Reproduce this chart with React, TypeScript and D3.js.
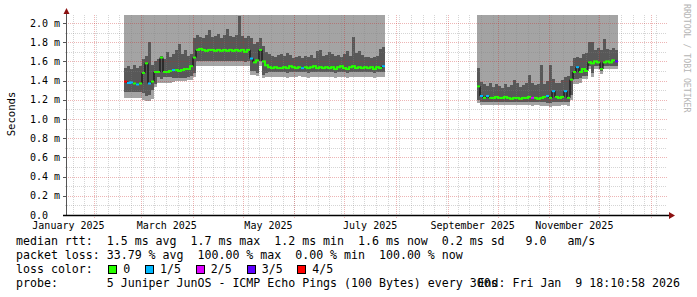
import React from "react";
import * as d3 from "d3";

// ---------- data ----------
const DAY = 86400000;
const START = Date.UTC(2025, 0, 15, 15, 0, 0);
const END = START + 360 * DAY;
const COL_DAYS = 1.8;

const yTickValues = [0, 0.2, 0.4, 0.6, 0.8, 1.0, 1.2, 1.4, 1.6, 1.8, 2.0];
const yTickLabels = ["0.0", "0.2 m", "0.4 m", "0.6 m", "0.8 m", "1.0 m", "1.2 m", "1.4 m", "1.6 m", "1.8 m", "2.0 m"];
const monthLabels = ["January 2025", "March 2025", "May 2025", "July 2025", "September 2025", "November 2025"];
const monthLabelMonths = [0, 2, 4, 6, 8, 10];

const lossLabels = ["0", "1/5", "2/5", "3/5", "4/5"];
const lossColors = ["#26ff00", "#00b8ff", "#dd00ff", "#5e00ff", "#ff0000"];

const seg1Start = "2025-02-18T19:48:00Z";
const seg1Median = [1.39, 1.375, 1.38, 1.37, 1.36, 1.37, 1.48, 1.58, 1.37, 1.39, 1.49, 1.49, 1.64, 1.49, 1.49, 1.50, 1.51, 1.51, 1.50, 1.51, 1.52, 1.52, 1.55, 1.64, 1.72, 1.73, 1.72, 1.71, 1.72, 1.72, 1.71, 1.72, 1.71, 1.72, 1.71, 1.72, 1.71, 1.72, 1.71, 1.72, 1.70, 1.72, 1.63, 1.59, 1.61, 1.72, 1.60, 1.56,
  1.54, 1.53, 1.54, 1.53, 1.53, 1.54, 1.53, 1.55, 1.54, 1.53, 1.54, 1.53, 1.54, 1.53, 1.54, 1.55, 1.53, 1.54, 1.53, 1.54, 1.53, 1.54, 1.52, 1.54, 1.55, 1.53, 1.52, 1.54, 1.55, 1.53, 1.54, 1.53, 1.54, 1.53, 1.54, 1.52, 1.54, 1.53, 1.55];
const seg1DarkTop = [1.53, 1.55, 1.52, 1.56, 1.53, 1.55, 1.62, 1.66, 1.80, 1.56, 1.60, 1.62, 1.66, 1.63, 1.70, 1.65, 1.68, 1.72, 1.78, 1.68, 1.72, 1.66, 1.68, 1.84, 1.87, 1.85, 1.84, 1.88, 1.93, 1.85, 1.86, 1.89, 1.84, 1.87, 1.94, 1.86, 1.85, 1.88, 2.07, 1.86, 1.84, 1.86, 1.84, 1.78, 1.80, 1.84, 1.76, 1.70,
  1.68, 1.66, 1.65, 1.67, 1.68, 1.66, 1.69, 1.67, 1.64, 1.65, 1.66, 1.64, 1.66, 1.65, 1.67, 1.64, 1.71, 1.72, 1.66, 1.67, 1.70, 1.68, 1.66, 1.67, 1.65, 1.68, 1.71, 1.66, 1.85, 1.69, 1.71, 1.67, 1.65, 1.65, 1.64, 1.65, 1.66, 1.73, 1.75];
const seg1DarkBot = [1.285, 1.285, 1.285, 1.285, 1.285, 1.285, 1.27, 1.24, 1.25, 1.30, 1.36, 1.44, 1.42, 1.44, 1.44, 1.44, 1.43, 1.43, 1.43, 1.43, 1.43, 1.44, 1.45, 1.48, 1.60, 1.60, 1.60, 1.60, 1.60, 1.60, 1.60, 1.60, 1.60, 1.60, 1.60, 1.60, 1.60, 1.60, 1.60, 1.60, 1.59, 1.60, 1.50, 1.50, 1.48, 1.60, 1.46, 1.48,
  1.49, 1.49, 1.49, 1.49, 1.49, 1.49, 1.48, 1.49, 1.49, 1.49, 1.49, 1.49, 1.49, 1.48, 1.49, 1.49, 1.49, 1.49, 1.49, 1.49, 1.49, 1.49, 1.48, 1.49, 1.49, 1.49, 1.48, 1.49, 1.49, 1.49, 1.49, 1.49, 1.49, 1.49, 1.49, 1.48, 1.49, 1.49, 1.49];
const seg1LightBot = [1.22, 1.22, 1.22, 1.22, 1.22, 1.22, 1.20, 1.19, 1.19, 1.21, 1.33, 1.37, 1.37, 1.37, 1.37, 1.38, 1.39, 1.40, 1.40, 1.40, 1.40, 1.41, 1.41, 1.44, 1.555, 1.555, 1.555, 1.555, 1.555, 1.555, 1.55, 1.55, 1.55, 1.55, 1.55, 1.55, 1.55, 1.55, 1.55, 1.55, 1.55, 1.55, 1.46, 1.46, 1.45, 1.55, 1.43, 1.44,
  1.44, 1.44, 1.44, 1.44, 1.44, 1.44, 1.43, 1.44, 1.44, 1.44, 1.45, 1.44, 1.44, 1.43, 1.44, 1.44, 1.44, 1.44, 1.44, 1.44, 1.44, 1.44, 1.43, 1.44, 1.44, 1.44, 1.43, 1.44, 1.44, 1.44, 1.44, 1.44, 1.44, 1.44, 1.44, 1.43, 1.44, 1.44, 1.44];
const seg1Loss = [4, 1, 1, 0, 1, 0, 0, 0, 1, 0, 0, 0, 0, 0, 0, 0, 1, 0, 0, 0, 0, 0, 0, 0, 0, 0, 0, 0, 0, 0, 0, 0, 0, 0, 0, 0, 0, 0, 0, 0, 0, 0, 1, 0, 0, 0, 0, 0,
  0, 0, 0, 0, 0, 0, 0, 0, 0, 0, 0, 1, 0, 0, 0, 0, 0, 0, 0, 0, 0, 0, 0, 0, 0, 0, 0, 0, 0, 0, 0, 0, 0, 0, 0, 0, 0, 0, 1];

const seg2Start = "2025-09-18T15:00:00Z";
const seg2Median = [1.34, 1.24, 1.22, 1.24, 1.22, 1.22, 1.23, 1.22, 1.22, 1.23, 1.22, 1.21, 1.22, 1.22, 1.21, 1.22, 1.22, 1.23, 1.22, 1.22, 1.21, 1.22, 1.23, 1.24, 1.22, 1.29, 1.23, 1.22, 1.23, 1.29, 1.22, 1.41, 1.49, 1.54, 1.49, 1.52, 1.50, 1.59, 1.58, 1.60, 1.59, 1.52, 1.59, 1.60, 1.59, 1.61, 1.60];
const seg2DarkTop = [1.53, 1.39, 1.36, 1.34, 1.38, 1.33, 1.36, 1.34, 1.32, 1.36, 1.33, 1.35, 1.41, 1.38, 1.33, 1.35, 1.37, 1.46, 1.38, 1.35, 1.36, 1.56, 1.36, 1.40, 1.56, 1.42, 1.38, 1.37, 1.41, 1.44, 1.45, 1.55, 1.64, 1.65, 1.64, 1.68, 1.69, 1.80, 1.80, 1.72, 1.74, 1.72, 1.83, 1.73, 1.72, 1.74, 1.72];
const seg2DarkBot = [1.20, 1.18, 1.18, 1.18, 1.18, 1.18, 1.18, 1.18, 1.18, 1.18, 1.18, 1.18, 1.18, 1.18, 1.18, 1.18, 1.18, 1.18, 1.18, 1.18, 1.18, 1.18, 1.18, 1.17, 1.17, 1.18, 1.18, 1.18, 1.18, 1.18, 1.18, 1.25, 1.42, 1.42, 1.43, 1.45, 1.45, 1.55, 1.48, 1.55, 1.55, 1.50, 1.55, 1.55, 1.55, 1.55, 1.55];
const seg2LightBot = [1.17, 1.15, 1.15, 1.15, 1.15, 1.15, 1.15, 1.15, 1.15, 1.15, 1.15, 1.15, 1.15, 1.15, 1.15, 1.15, 1.15, 1.15, 1.14, 1.15, 1.15, 1.14, 1.14, 1.14, 1.13, 1.14, 1.14, 1.14, 1.15, 1.15, 1.14, 1.20, 1.36, 1.36, 1.38, 1.42, 1.42, 1.52, 1.44, 1.52, 1.52, 1.47, 1.52, 1.52, 1.52, 1.52, 1.52];
const seg2Loss = [0, 1, 0, 1, 0, 0, 0, 0, 0, 0, 0, 0, 0, 0, 0, 0, 0, 0, 2, 0, 0, 0, 0, 1, 0, 1, 0, 0, 0, 1, 0, 0, 0, 1, 0, 0, 0, 0, 0, 0, 0, 0, 0, 0, 0, 0, 3];

const legendRtt = "median rtt:  1.5 ms avg  1.7 ms max  1.2 ms min  1.6 ms now  0.2 ms sd   9.0   am/s";
const legendLoss = "packet loss: 33.79 % avg  100.00 % max  0.00 % min  100.00 % now";
const legendLossTitle = "loss color:";
const legendProbe = "probe:       5 Juniper JunOS - ICMP Echo Pings (100 Bytes) every 300s";
const legendEnd = "End: Fri Jan  9 18:10:58 2026";
const yTitle = "Seconds";
const watermark = "RRDTOOL / TOBI OETIKER";

// ---------- helpers ----------
type Col = { t0: Date; t1: Date; med: number; dT: number; dB: number; lB: number; loss: number };
function buildSeg(start: string, med: number[], dT: number[], dB: number[], lB: number[], loss: number[]): Col[] {
  const s = new Date(start).getTime();
  return med.map((m, i) => ({
    t0: new Date(s + i * COL_DAYS * DAY),
    t1: new Date(s + (i + 1) * COL_DAYS * DAY),
    med: m, dT: dT[i], dB: dB[i], lB: lB[i], loss: loss[i],
  }));
}

const MONO = "'DejaVu Sans Mono', monospace";
const PRE: React.CSSProperties = { whiteSpace: "pre" };

export default function App() {
  const X0 = 67, X1 = 667, YB = 215, YT = 15;
  const x = d3.scaleTime().domain([new Date(START), new Date(END)]).range([X0, X1]);
  const yMax = 200 / 96;
  const y = d3.scaleLinear().domain([0, yMax]).range([YB, YT]);

  const segs = [
    buildSeg(seg1Start, seg1Median, seg1DarkTop, seg1DarkBot, seg1LightBot, seg1Loss),
    buildSeg(seg2Start, seg2Median, seg2DarkTop, seg2DarkBot, seg2LightBot, seg2Loss),
  ];

  const snap = (v: number) => Math.round(v) + 0.5;

  const minorY = d3.range(1, 21, 2).map((k) => k * 0.1);
  const majorY = yTickValues.filter((v) => v > 0);
  const months = d3.utcMonth.range(new Date(START), new Date(END));
  const weeks = d3.utcSunday.range(new Date(START), new Date(END));

  const minorCol = "rgba(128,128,128,0.33)";
  const majorCol = "rgba(200,30,30,0.33)";

  const line = d3.line<[number, number]>();

  return (
    <svg width={697} height={297} style={{ position: "absolute", left: 0, top: 0, background: "#fff" }}
      xmlns="http://www.w3.org/2000/svg">
      <rect x={0} y={0} width={697} height={297} fill="#ffffff" />

      {/* smoke */}
      <g shapeRendering="crispEdges">
        {segs.map((seg, si) =>
          seg.map((c, i) => {
            const xa = x(c.t0), xb = x(c.t1);
            return (
              <g key={`s${si}-${i}`}>
                <rect x={xa} y={YT} width={xb - xa} height={y(c.lB) - YT} fill="#a4a4a4" />
                <rect x={xa} y={y(Math.min(c.dT, yMax))} width={xb - xa}
                  height={y(c.dB) - y(Math.min(c.dT, yMax))} fill="#585858" />
              </g>
            );
          })
        )}
      </g>

      {/* grid */}
      <g strokeDasharray="1,1" strokeWidth={1}>
        {minorY.map((v) => (
          <line key={`mny${v}`} x1={X0 - 2} x2={X1} y1={snap(y(v))} y2={snap(y(v))} stroke={minorCol} />
        ))}
        {weeks.map((d) => (
          <line key={`mnx${d.getTime()}`} x1={snap(x(d))} x2={snap(x(d))} y1={YT} y2={YB + 2} stroke={minorCol} />
        ))}
        {majorY.map((v) => (
          <line key={`mjy${v}`} x1={X0 - 3} x2={X1} y1={snap(y(v))} y2={snap(y(v))} stroke={majorCol} />
        ))}
        {months.map((d) => (
          <line key={`mjx${d.getTime()}`} x1={snap(x(d))} x2={snap(x(d))} y1={YT} y2={YB + 3} stroke={majorCol} />
        ))}
      </g>

      {/* median: thin black line then loss-coloured line */}
      {segs.map((seg, si) => {
        const pts: [number, number][] = [];
        seg.forEach((c) => {
          pts.push([x(c.t0), y(c.med)]);
          pts.push([x(c.t1), y(c.med)]);
        });
        return <path key={`bl${si}`} d={line(pts) || ""} fill="none" stroke="#000" strokeWidth={1} />;
      })}
      {segs.map((seg, si) =>
        seg.map((c, i) => {
          const col = lossColors[c.loss];
          const els = [
            <line key={`h${si}-${i}`} x1={x(c.t0)} x2={x(c.t1)} y1={y(c.med)} y2={y(c.med)} stroke={col} strokeWidth={2} />,
          ];
          const n = seg[i + 1];
          if (n && n.loss === c.loss && Math.abs(y(n.med) - y(c.med)) <= 4) {
            els.push(
              <line key={`v${si}-${i}`} x1={x(c.t1)} x2={x(c.t1)} y1={y(c.med)} y2={y(n.med)} stroke={col} strokeWidth={2} strokeLinecap="square" />
            );
          }
          return <g key={`m${si}-${i}`}>{els}</g>;
        })
      )}

      {/* axes */}
      <line x1={66.5} x2={66.5} y1={YB} y2={12} stroke="#555" strokeWidth={1} />
      {majorY.map((v) => (
        <line key={`ty${v}`} x1={63} x2={67} y1={snap(y(v))} y2={snap(y(v))} stroke="#555" />
      ))}
      <line x1={63} x2={670} y1={215.5} y2={215.5} stroke="#000" strokeWidth={1.3} />
      <polygon points="63.5,14 69.5,14 66.5,8" fill="#8b1010" />
      <polygon points="669,212 669,219 675,215.5" fill="#8b1010" />

      {/* tick labels */}
      <g fontFamily={MONO} fontSize={10} fill="#000">
        {yTickValues.map((v, k) => (
          <text key={`yl${v}`} x={30} y={y(v) + 3.6} xmlSpace="preserve" style={PRE}>{yTickLabels[k]}</text>
        ))}
        {monthLabels.map((lab, k) => {
          const m0 = Date.UTC(2025, monthLabelMonths[k], 1);
          const m1 = Date.UTC(2025, monthLabelMonths[k] + 1, 1);
          return (
            <text key={lab} x={x(new Date((m0 + m1) / 2))} y={228.5} textAnchor="middle">{lab}</text>
          );
        })}
      </g>

      <text transform="translate(15,114) rotate(-90)" fontFamily={MONO} fontSize={10.6} textAnchor="middle" fill="#000">{yTitle}</text>
      <text transform="translate(684,4) rotate(90)" fontFamily={MONO} fontSize={8.2} fill="#b4b4b4">{watermark}</text>

      {/* legend */}
      <g fontFamily={MONO} fontSize={11.6} fill="#000">
        <text x={16} y={245} xmlSpace="preserve" style={PRE}>{legendRtt}</text>
        <text x={16} y={259.2} xmlSpace="preserve" style={PRE}>{legendLoss}</text>
        <text x={16} y={273.3} xmlSpace="preserve" style={PRE}>{legendLossTitle}</text>
        <text x={16} y={287.4} xmlSpace="preserve" style={PRE}>{legendProbe}</text>
        <text x={680} y={287.4} textAnchor="end" xmlSpace="preserve" style={PRE}>{legendEnd}</text>
      </g>
      {lossLabels.map((lab, k) => {
        const tx = [123.3, 160, 210.7, 261.7, 312.3][k];
        return (
          <g key={`lg${k}`}>
            <rect x={tx - 14.5} y={265.5} width={8} height={8} fill={lossColors[k]} stroke="#000" strokeWidth={1} shapeRendering="crispEdges" />
            <text x={tx} y={273.3} fontFamily={MONO} fontSize={11.6} fill="#000">{lab}</text>
          </g>
        );
      })}
    </svg>
  );
}
